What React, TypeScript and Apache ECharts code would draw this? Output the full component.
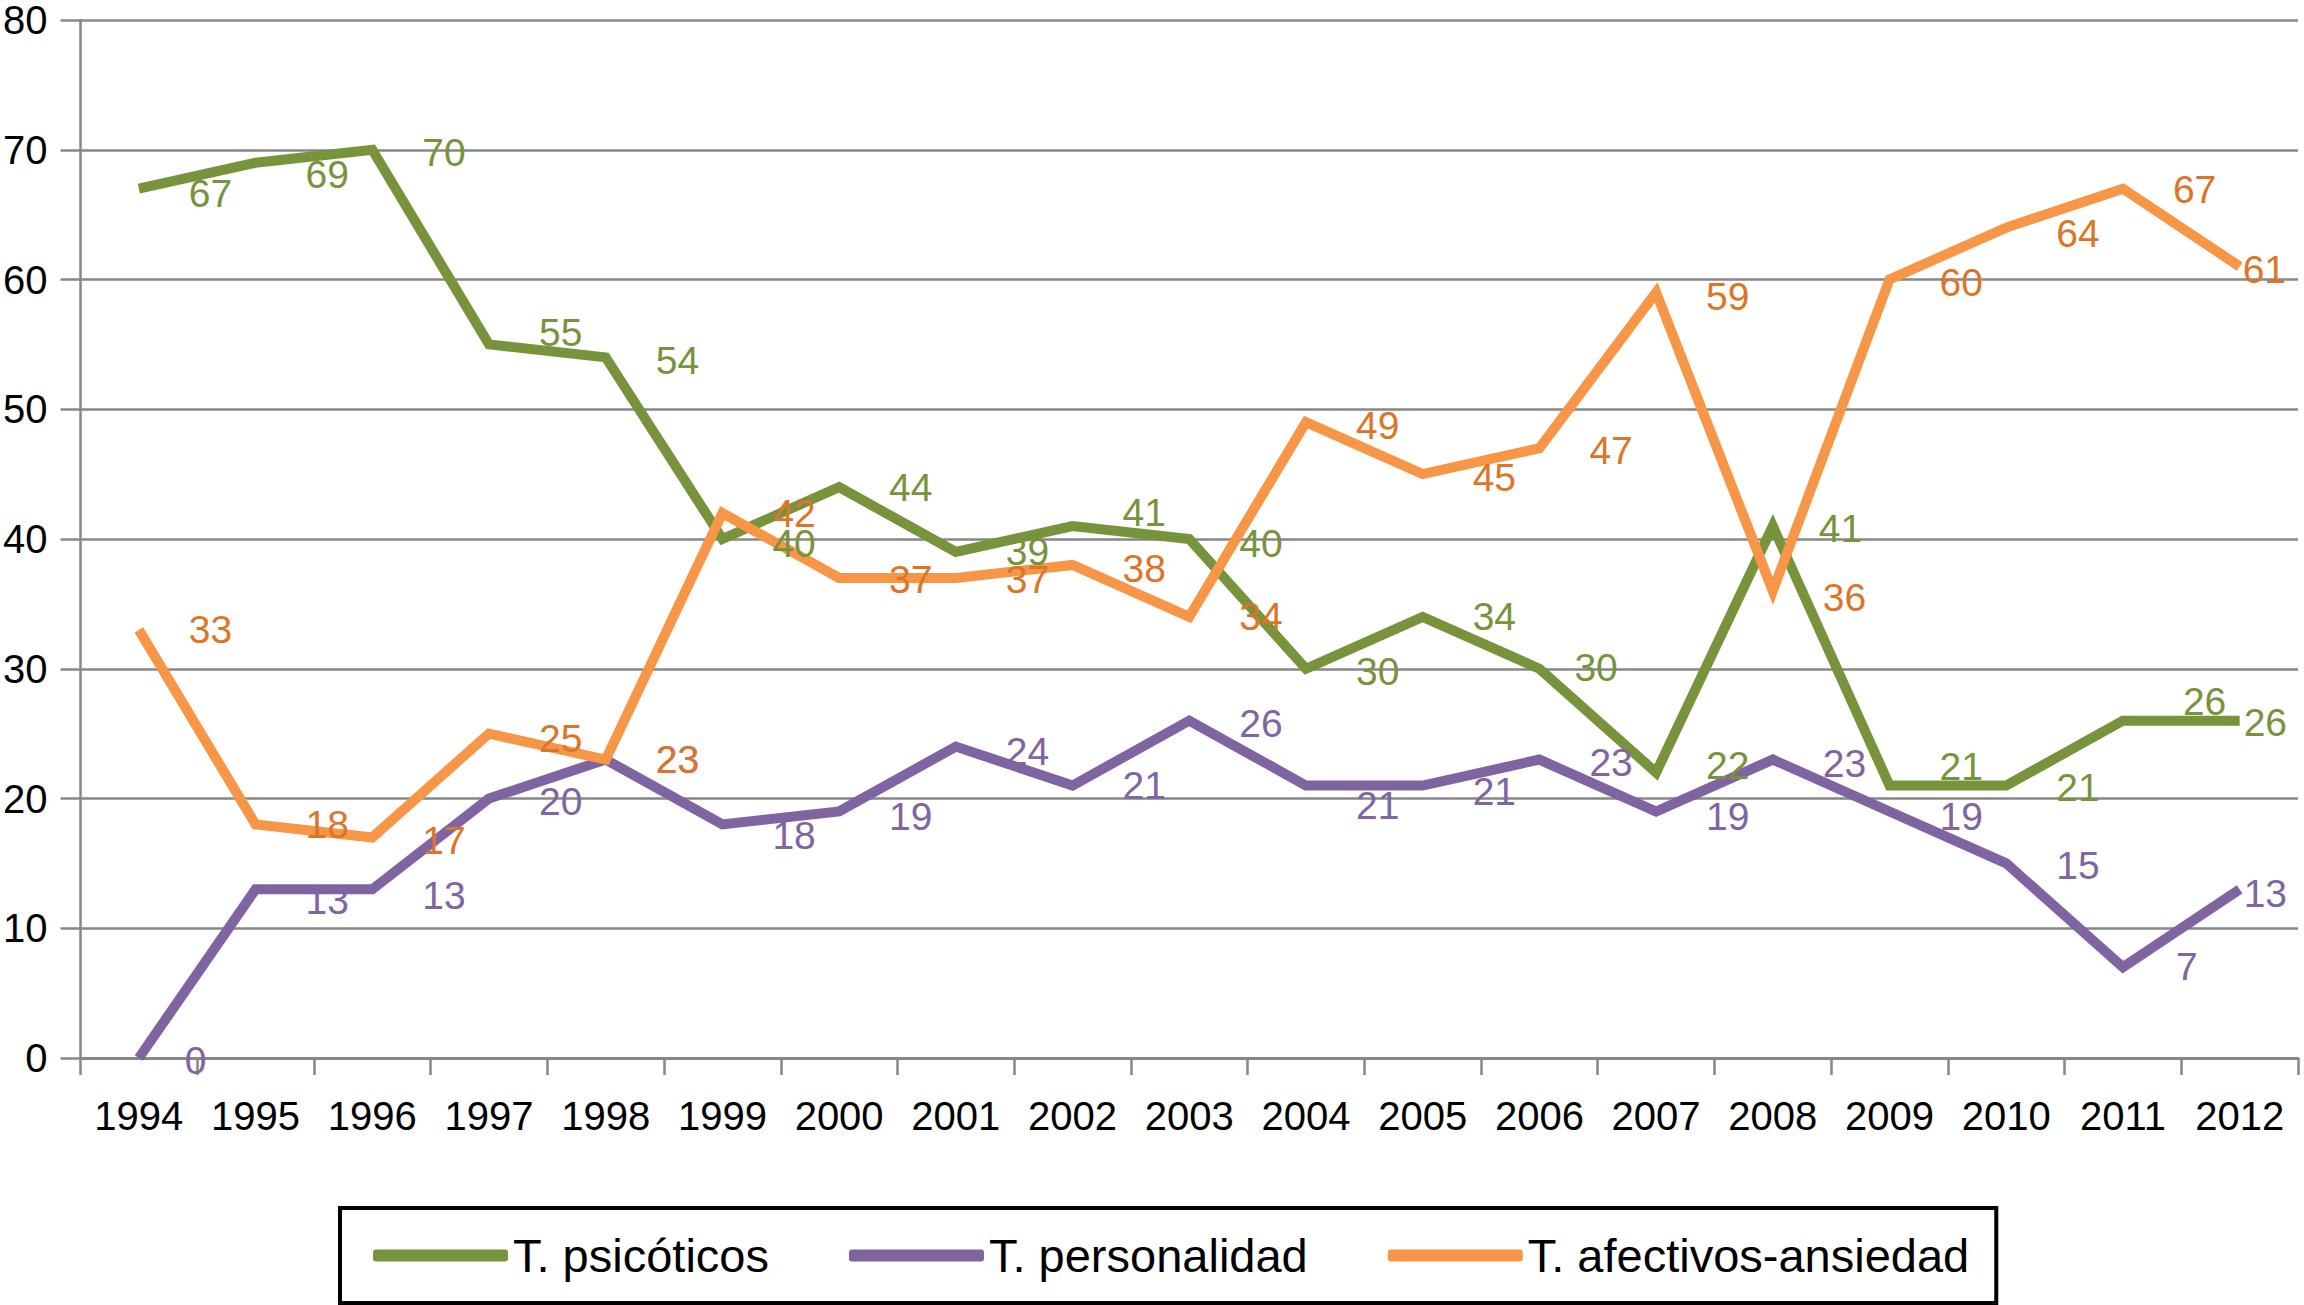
import React, { useEffect, useRef } from "react";
import * as echarts from "echarts";

const years = ["1994","1995","1996","1997","1998","1999","2000","2001","2002","2003","2004","2005","2006","2007","2008","2009","2010","2011","2012"];
const psicoticos = [67, 69, 70, 55, 54, 40, 44, 39, 41, 40, 30, 34, 30, 22, 41, 21, 21, 26, 26];
const personalidad = [0, 13, 13, 20, 23, 18, 19, 24, 21, 26, 21, 21, 23, 19, 23, 19, 15, 7, 13];
const afectivos = [33, 18, 17, 25, 23, 42, 37, 37, 38, 34, 49, 45, 47, 59, 36, 60, 64, 67, 61];
const seriesNames = ["T. psicóticos", "T. personalidad", "T. afectivos-ansiedad"];
const yMin = 0;
const yMax = 80;
const yStep = 10;

// label nudges (pixels), style only
const greenDx = [0,0,0,0,0,0,0,0,0,0,0,0,-15,0,-4,0,0,10,-46];
const greenDy = [5,12,3,-12,3,4,0,0,-14,4,3,0,-1,-7,2,-19,2,-19,2];
const purpleDx = [-4,0,0,0,0,0,0,0,0,0,0,0,0,0,0,0,0,3,-46];
const purpleDy = [2,11,6,3,0,11,5,5,0,3,20,6,3,5,4,5,2,-1,4];
const orangeDx = [0,0,0,0,0,0,0,0,0,0,0,0,0,0,0,0,0,0,-47];
const orangeDy = [0,0,3,5,0,0,2,2,4,0,3,3,2,4,7,3,6,1,3];

const FONT = "'Liberation Sans', Arial, Helvetica, sans-serif";
const GRID = "#878787";

function withOffsets(values: number[], dx: number[], dy: number[]) {
  return values.map((v, i) => ({ value: v, label: { offset: [dx[i], dy[i]] } }));
}

function makeSeries(name: string, data: any[], color: string, labelColor: string) {
  return {
    name,
    type: "line",
    data,
    showSymbol: true,
    symbol: "circle",
    symbolSize: 0,
    lineStyle: { color, width: 10, join: "miter", miterLimit: 4, cap: "butt" },
    itemStyle: { color },
    label: {
      show: true,
      position: "right",
      distance: 50,
      color: labelColor,
      fontSize: 39,
      fontFamily: FONT,
    },
    emphasis: { disabled: true },
  };
}

export default function App() {
  const ref = useRef<HTMLDivElement>(null);
  useEffect(() => {
    document.body.style.margin = "0";
    const chart = echarts.init(ref.current!, undefined, { renderer: "svg" });
    chart.setOption({
      animation: false,
      backgroundColor: "#ffffff",
      grid: { left: 76, top: 20, width: 2222, height: 1038, containLabel: false },
      xAxis: {
        type: "category",
        data: years,
        boundaryGap: true,
        axisLine: { show: true, lineStyle: { color: GRID, width: 3 } },
        axisTick: { show: true, length: 17, alignWithLabel: false, lineStyle: { color: GRID, width: 2.5 } },
        axisLabel: { color: "#000", fontSize: 40, fontFamily: FONT, margin: 38, interval: 0 },
        splitLine: { show: false },
      },
      yAxis: {
        type: "value",
        min: yMin,
        max: yMax,
        interval: yStep,
        axisLine: { show: true, lineStyle: { color: GRID, width: 2.5 } },
        axisTick: { show: true, length: 20, lineStyle: { color: GRID, width: 2.5 } },
        axisLabel: { color: "#000", fontSize: 40, fontFamily: FONT, margin: 33 },
        splitLine: { show: true, lineStyle: { color: GRID, width: 2.5 } },
      },
      legend: {
        show: true,
        left: 340,
        top: 1208,
        orient: "horizontal",
        icon: "roundRect",
        itemWidth: 135,
        itemHeight: 12,
        itemGap: 80,
        padding: [24, 27, 24, 33],
        borderColor: "#000",
        borderWidth: 4,
        textStyle: { color: "#000", fontSize: 47, fontFamily: FONT },
        data: seriesNames,
      },
      series: [
        makeSeries(seriesNames[0], withOffsets(psicoticos, greenDx, greenDy), "#77933C", "#77933C"),
        makeSeries(seriesNames[1], withOffsets(personalidad, purpleDx, purpleDy), "#8064A2", "#7E65A3"),
        makeSeries(seriesNames[2], withOffsets(afectivos, orangeDx, orangeDy), "#F79646", "#DD7528"),
      ],
    });
    return () => chart.dispose();
  }, []);
  return <div ref={ref} style={{ width: 2304, height: 1305 }} />;
}
